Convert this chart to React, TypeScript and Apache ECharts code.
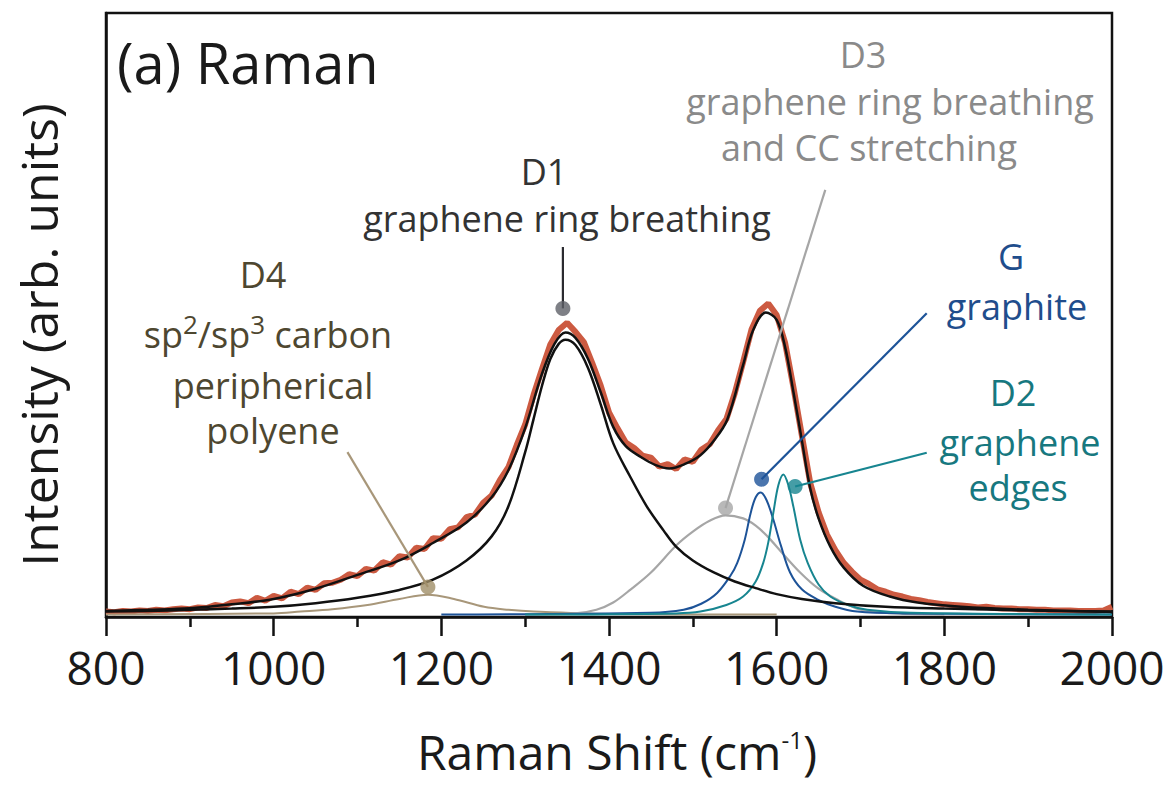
import React, { useEffect, useRef } from "react";
import * as echarts from "echarts";

// ---------- data (Raman shift cm^-1, intensity arb. units) ----------
const xTickValues = [800, 1000, 1200, 1400, 1600, 1800, 2000];

const measured: [number, number][] = [
  [800, 0.5], [810, 0.4], [820, 0.6], [830, 0.5], [840, 0.7], [850, 0.6], [860, 0.8], [870, 0.7], [880, 0.9], [890, 1.0],
  [900, 0.9], [910, 1.2], [920, 1.1], [930, 1.6], [940, 1.4], [950, 2.0], [960, 2.2], [970, 1.9], [980, 2.8], [990, 2.3],
  [1000, 3.1], [1010, 2.7], [1020, 3.8], [1030, 3.4], [1040, 4.5], [1050, 4.1], [1060, 5.2], [1070, 5.3], [1080, 5.8], [1090, 6.7],
  [1100, 6.4], [1110, 7.6], [1120, 7.3], [1130, 8.7], [1140, 8.3], [1150, 9.7], [1160, 9.5], [1170, 11.1], [1180, 10.9], [1190, 12.7],
  [1200, 12.6], [1210, 14.2], [1220, 14.5], [1230, 16.2], [1240, 16.6], [1250, 18.6], [1260, 19.8], [1270, 22.4], [1280, 24.5], [1290, 28.2],
  [1300, 31.6], [1310, 36.5], [1320, 40.8], [1330, 44.9], [1340, 47.3], [1350, 48.5], [1360, 47.0], [1370, 45.3], [1380, 41.8], [1390, 38.1],
  [1400, 33.6], [1410, 31.0], [1420, 28.6], [1430, 27.7], [1440, 26.4], [1450, 26.1], [1460, 24.6], [1470, 25.0], [1480, 24.2], [1490, 25.8],
  [1500, 25.4], [1510, 27.4], [1520, 28.3], [1530, 30.6], [1540, 32.5], [1550, 36.8], [1560, 42.0], [1570, 47.4], [1580, 50.5], [1590, 51.7],
  [1600, 49.8], [1610, 45.2], [1620, 37.8], [1630, 29.8], [1640, 21.9], [1650, 17.0], [1660, 13.3], [1670, 10.7], [1680, 8.6], [1690, 7.1],
  [1700, 5.8], [1710, 5.1], [1720, 4.2], [1730, 3.8], [1740, 3.3], [1750, 3.0], [1760, 2.6], [1770, 2.4], [1780, 2.1], [1790, 1.9],
  [1800, 1.7], [1810, 1.6], [1820, 1.5], [1830, 1.4], [1840, 1.2], [1850, 1.3], [1860, 1.1], [1870, 1.0], [1880, 1.0], [1890, 0.9],
  [1900, 0.9], [1910, 0.8], [1920, 0.8], [1930, 0.7], [1940, 0.7], [1950, 0.7], [1960, 0.6], [1970, 0.6], [1980, 0.6], [1990, 0.7],
  [2000, 1.3],
];

const fitTotal: [number, number][] = [
  [800, 0.6], [850, 0.8], [900, 1.05], [950, 1.7], [1000, 2.6], [1050, 4.3], [1100, 6.6], [1150, 9.0], [1190, 11.9],
  [1230, 15.3], [1260, 19.5], [1280, 24.0], [1300, 31.0], [1320, 40.0], [1335, 45.0], [1348, 46.9], [1360, 46.0],
  [1375, 42.5], [1390, 37.0], [1405, 31.2], [1420, 28.0], [1438, 26.2], [1455, 24.9], [1472, 24.3], [1490, 25.0],
  [1509, 26.5], [1525, 28.9], [1541, 32.4], [1560, 41.5], [1572, 47.3], [1587, 50.2], [1600, 49.0], [1610, 44.5],
  [1620, 37.0], [1630, 29.0], [1640, 21.0], [1650, 16.0], [1664, 11.3], [1680, 7.8], [1703, 4.8], [1735, 3.0],
  [1768, 2.0], [1820, 1.3], [1900, 0.8], [2000, 0.45],
];

const bandD1: [number, number][] = [
  [800, 0.5], [850, 0.6], [900, 0.8], [950, 1.0], [1000, 1.3], [1050, 1.9], [1100, 2.8], [1150, 4.1], [1190, 5.8],
  [1230, 9.0], [1260, 13.0], [1280, 18.0], [1300, 27.0], [1310, 32.5], [1320, 38.0], [1330, 42.5], [1340, 45.0],
  [1348, 45.7], [1360, 44.8], [1375, 41.0], [1390, 35.0], [1405, 28.5], [1425, 23.0], [1445, 18.0], [1465, 14.0],
  [1480, 11.3], [1500, 9.0], [1525, 7.0], [1550, 5.5], [1575, 4.4], [1600, 3.4], [1630, 2.6], [1670, 1.9],
  [1730, 1.3], [1800, 1.0], [1900, 0.7], [2000, 0.5],
];

const bandD4: [number, number][] = [
  [800, 0], [1000, 0.2], [1032, 0.5], [1070, 0.9], [1112, 1.6], [1150, 2.6], [1184, 3.3], [1215, 2.6],
  [1251, 1.3], [1280, 0.8], [1310, 0.5], [1400, 0.1], [1600, 0],
];

const bandD3: [number, number][] = [
  [1300, 0], [1360, 0.2], [1385, 0.8], [1405, 2.0], [1426, 4.2], [1450, 7.0], [1481, 11.6], [1500, 13.8],
  [1520, 15.6], [1539, 16.5], [1560, 16.0], [1575, 14.8], [1589, 13.0], [1605, 10.5], [1628, 7.0],
  [1650, 4.3], [1672, 2.5], [1696, 1.0], [1720, 0.4], [1760, 0.1], [1800, 0],
];

const bandG: [number, number][] = [
  [1200, 0], [1450, 0.3], [1489, 0.8], [1510, 1.8], [1529, 3.6], [1545, 6.5], [1553, 8.6], [1562, 12.5],
  [1569, 16.9], [1575, 19.5], [1581, 20.3], [1588, 19.0], [1596, 15.8], [1605, 11.5], [1616, 7.0],
  [1630, 4.2], [1649, 2.5], [1670, 1.3], [1696, 0.5], [1750, 0.2], [2000, 0],
];

const bandD2: [number, number][] = [
  [1300, 0], [1480, 0.2], [1509, 0.5], [1540, 1.6], [1560, 3.0], [1575, 5.5], [1584, 8.6], [1590, 12.0],
  [1596, 16.9], [1602, 21.5], [1608, 23.3], [1614, 21.5], [1620, 17.9], [1628, 12.5], [1637, 8.6],
  [1650, 5.0], [1664, 3.0], [1685, 1.6], [1708, 0.8], [1760, 0.3], [2000, 0],
];

// leader lines: [label end, band marker]
const leaderD1: [number, number][] = [[1345, 61.1], [1345, 50.9]];
const leaderD4: [number, number][] = [[1088, 27.0], [1184, 4.6]];
const leaderD3: [number, number][] = [[1658, 70.6], [1539, 17.7]];
const leaderG: [number, number][] = [[1779, 50.1], [1582, 22.5]];
const leaderD2: [number, number][] = [[1779, 26.9], [1622, 21.3]];

const FONT = "'Open Sans', 'Noto Sans', sans-serif";

const C = {
  data: "#cc5a41",
  fit: "#111111",
  d1Text: "#333333",
  d1Dot: "#5e6068",
  d1Line: "#2b2b30",
  d3: "#a6a6a6",
  d3Text: "#8a8a8a",
  d4: "#a8977a",
  d4Dot: "#a08e68",
  d4Text: "#4e4730",
  g: "#1d5398",
  gText: "#1f4d8c",
  d2: "#178590",
  d2Text: "#17787f",
  ink: "#1a1a1a",
};

function txt(
  text: string,
  cx: number,
  baseline: number,
  fs: number,
  color: string,
  align = "center",
  rich?: any,
  lineHeight?: number
) {
  const lh = lineHeight || fs;
  const lines = text.split("\n").length;
  // y is the vertical middle of the whole block; baseline refers to the first line
  const y = baseline - 0.285 * fs + ((lines - 1) * lh) / 2;
  return {
    type: "text",
    x: cx,
    y,
    silent: true,
    style: {
      text,
      fill: color,
      fontSize: fs,
      lineHeight: lh,
      fontFamily: FONT,
      align,
      verticalAlign: "middle",
      rich,
    },
  };
}

function lineSeries(name: string, data: [number, number][], color: string, width: number, z = 3, smooth: any = 0.35) {
  return {
    name,
    type: "line",
    data,
    showSymbol: false,
    symbol: "none",
    smooth,
    silent: true,
    z,
    lineStyle: { color, width },
  };
}

function leader(name: string, data: [number, number][], color: string) {
  return {
    name,
    type: "line",
    data,
    showSymbol: false,
    symbol: "none",
    silent: true,
    z: 6,
    lineStyle: { color, width: 2.2 },
  };
}

export default function App() {
  const ref = useRef<HTMLDivElement>(null);

  useEffect(() => {
    const chart = echarts.init(ref.current!, null, { renderer: "svg" });
    const supRich = (color: string) => ({
      n: { fontSize: 36, lineHeight: 48, fontFamily: FONT, color },
      sup: { fontSize: 26, lineHeight: 26, verticalAlign: "top", fontFamily: FONT, color },
    });
    const option: any = {
      animation: false,
      backgroundColor: "#ffffff",
      grid: {
        left: 106,
        right: 61,
        top: 13,
        bottom: 168,
        show: true,
        borderColor: "#111",
        borderWidth: 2.5,
        containLabel: false,
        outerBoundsMode: "none",
      },
      xAxis: {
        type: "value",
        min: xTickValues[0],
        max: xTickValues[xTickValues.length - 1],
        interval: 200,
        axisLine: { show: true, onZero: false, lineStyle: { color: "#111", width: 2.5 } },
        axisTick: { show: true, inside: false, length: 19, lineStyle: { color: "#111", width: 2.5 } },
        minorTick: { show: true, splitNumber: 2, length: 10, lineStyle: { color: "#111", width: 2.5 } },
        splitLine: { show: false },
        minorSplitLine: { show: false },
        axisLabel: {
          margin: 27,
          fontSize: 46,
          fontFamily: FONT,
          color: C.ink,
          formatter: (v: number) => String(v),
        },
        name: "{m|Raman Shift (cm}{sup|-1}{m|)}",
        nameLocation: "middle",
        nameGap: 110,
        nameMoveOverlap: false,
        nameTextStyle: {
          padding: [0, 0, 0, 16],
          rich: {
            m: { fontSize: 48, lineHeight: 48, fontFamily: FONT, color: C.ink },
            sup: { fontSize: 24, lineHeight: 24, verticalAlign: "top", fontFamily: FONT, color: C.ink },
          },
        },
      },
      yAxis: {
        type: "value",
        min: -0.4,
        max: 100,
        axisLine: { show: true, lineStyle: { color: "#111", width: 2.5 } },
        axisTick: { show: false },
        axisLabel: { show: false },
        splitLine: { show: false },
        name: "Intensity (arb. units)",
        nameLocation: "middle",
        nameRotate: 90,
        nameGap: 42,
        nameMoveOverlap: false,
        nameTextStyle: { fontSize: 50, fontFamily: FONT, color: C.ink, padding: [0, 40, 0, 0] },
      },
      series: [
        lineSeries("measured", measured, C.data, 6, 2, false),
        lineSeries("D4", bandD4, C.d4, 2),
        lineSeries("D3", bandD3, C.d3, 2.2),
        lineSeries("G", bandG, C.g, 2),
        lineSeries("D2", bandD2, C.d2, 2),
        lineSeries("D1", bandD1, C.fit, 2.5, 4),
        lineSeries("fit", fitTotal, C.fit, 2.5, 5),
        leader("D1 leader", leaderD1, C.d1Line),
        leader("D4 leader", leaderD4, C.d4),
        leader("D3 leader", leaderD3, C.d3),
        leader("G leader", leaderG, C.g),
        leader("D2 leader", leaderD2, C.d2),
        {
          name: "markers",
          type: "scatter",
          symbolSize: 15,
          silent: true,
          z: 7,
          data: [
            { value: leaderD1[1], itemStyle: { color: C.d1Dot } },
            { value: leaderD4[1], itemStyle: { color: C.d4Dot } },
            { value: leaderD3[1], itemStyle: { color: C.d3 } },
            { value: leaderG[1], itemStyle: { color: C.g } },
            { value: leaderD2[1], itemStyle: { color: C.d2 } },
          ],
        },
      ],
      graphic: [
        txt("(a) Raman", 117, 78, 56, C.ink, "left"),
        txt("D3", 863, 65, 36, C.d3Text),
        txt("graphene ring breathing", 890, 112, 36, C.d3Text),
        txt("and CC stretching", 869, 158, 36, C.d3Text),
        txt("D1", 544, 182, 36, C.d1Text),
        txt("graphene ring breathing", 567, 229, 36, C.d1Text),
        txt("D4", 263, 285, 36, C.d4Text),
        txt("{n|sp}{sup|2}{n|/sp}{sup|3}{n| carbon}", 268, 345, 36, C.d4Text, "center", supRich(C.d4Text)),
        txt("peripherical\npolyene", 273, 396, 36, C.d4Text, "center", undefined, 45),
        txt("G", 1011, 267, 36, C.gText),
        txt("graphite", 1017, 317, 36, C.gText),
        txt("D2", 1013, 403, 36, C.d2Text),
        txt("graphene", 1020, 453, 36, C.d2Text),
        txt("edges", 1018, 498, 36, C.d2Text),
      ],
    };
    chart.setOption(option);
    return () => chart.dispose();
  }, []);

  return (
    <div
      ref={ref}
      style={{ position: "fixed", left: 0, top: 0, width: 1173, height: 785, background: "#fff" }}
    />
  );
}
